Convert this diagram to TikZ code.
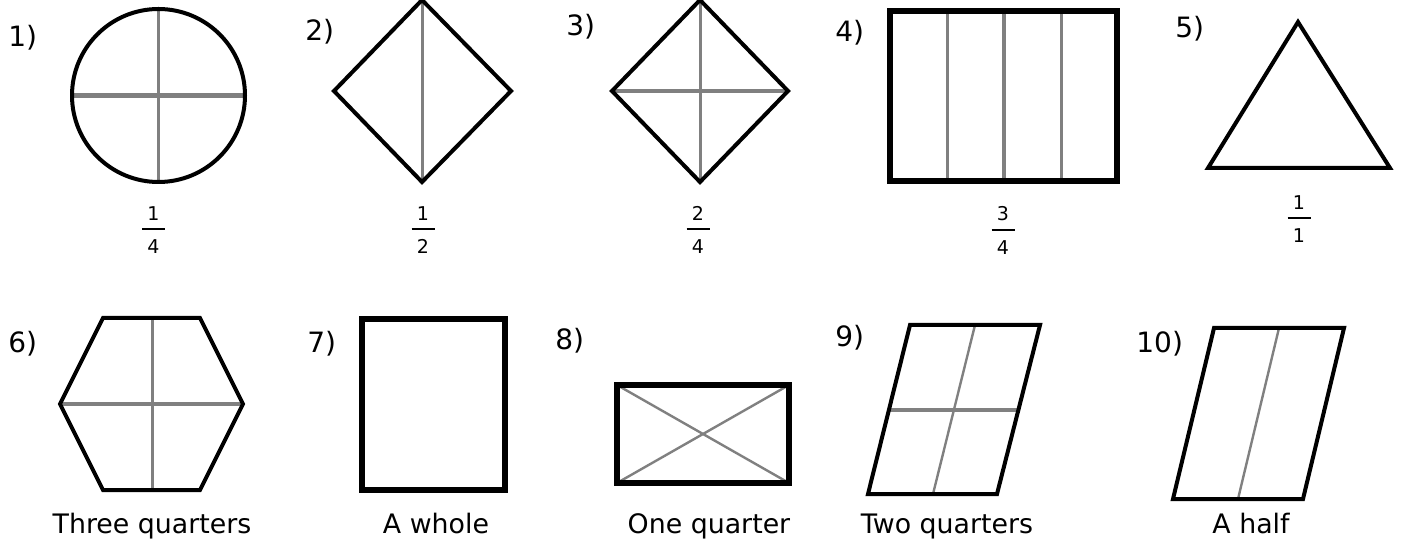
\documentclass[tikz,border=0pt]{standalone}
\usepackage{fontspec}
\setmainfont{DejaVu Sans}
\usetikzlibrary{positioning}
\definecolor{partgray}{RGB}{128,128,128}
\tikzset{
  outline/.style={line width=2pt, line join=miter},
  boldoutline/.style={line width=2.6pt, line join=miter},
  part/.style={partgray, line width=1.5pt},
  boldpart/.style={partgray, line width=2.3pt},
  thinpart/.style={partgray, line width=1.2pt},
  fracbar/.style={line width=1pt},
  qnum/.style={anchor=base west, inner sep=0pt, font=\fontsize{14}{16}\selectfont},
  fracdigit/.style={inner sep=0pt, font=\fontsize{9.5}{11}\selectfont},
  caption/.style={anchor=base, inner sep=0pt, font=\fontsize{13.4}{16}\selectfont}
}
\begin{document}
\begin{tikzpicture}[x=0.5pt,y=-0.5pt]
  \useasboundingbox (0,0) rectangle (1402,550);
  % 1) circle
  \draw[part] (158.5,9) -- (158.5,182);
  \draw[boldpart] (72,95.5) -- (245,95.5);
  \draw[outline] (158.5,95.5) circle[radius=86.5];
  % 2) diamond, one cut
  \draw[part] (422,0) -- (422,182);
  \draw[outline] (334,91) -- (422,0) -- (511,91) -- (422,182) -- cycle;
  % 3) diamond, two cuts
  \draw[part] (700,0) -- (700,182);
  \draw[boldpart] (612,91) -- (788,91);
  \draw[outline] (612,91) -- (700,0) -- (788,91) -- (700,182) -- cycle;
  % 4) rectangle in four strips
  \draw[part] (947,11) -- (947,181);
  \draw[boldpart] (1004,11) -- (1004,181);
  \draw[part] (1061,11) -- (1061,181);
  \draw[boldoutline] (890,11) rectangle (1117,181);
  % 5) triangle
  \draw[outline] (1298,22) -- (1390,168) -- (1208,168) -- cycle;
  % fractions under the top row
  \foreach \a/\b/\x/\y [count=\i] in {1/4/153.5/229,1/2/423/229,2/4/698/229,3/4/1003/230,1/1/1299/218}{
    \coordinate (bar\i) at (\x,\y);
    \draw[fracbar] ([xshift=-5.75pt]bar\i) -- ([xshift=5.75pt]bar\i);
    \node[fracdigit, above=4.2pt of bar\i] (top\i) {\a};
    \node[fracdigit, below=5pt of bar\i] (bot\i) {\b};
  }
  % 6) hexagon
  \draw[part] (152,318) -- (152,490);
  \draw[boldpart] (60,404) -- (243,404);
  \draw[outline] (103,318) -- (200,318) -- (243,404) -- (200,490) -- (103,490) -- (60,404) -- cycle;
  % 7) rectangle, whole
  \draw[boldoutline] (362,319) rectangle (505,490);
  % 8) rectangle with diagonals
  \draw[thinpart] (617,385) -- (789,483) (617,483) -- (789,385);
  \draw[boldoutline] (617,385) rectangle (789,483);
  % 9) parallelogram in quarters
  \draw[thinpart] (975,325) -- (933,494);
  \draw[boldpart] (889,410) -- (1018,410);
  \draw[outline] (910,325) -- (1040,325) -- (997,494) -- (868,494) -- cycle;
  % 10) parallelogram in halves
  \draw[thinpart] (1279,328) -- (1238,499);
  \draw[outline] (1214,328) -- (1344,328) -- (1303,499) -- (1173,499) -- cycle;
  % numbers
  \node[qnum] (lab1) at (8,47) {1)};
  \node[qnum] (lab2) at (305,41) {2)};
  \node[qnum] (lab3) at (566,36) {3)};
  \node[qnum] (lab4) at (835,42) {4)};
  \node[qnum] (lab5) at (1175,38) {5)};
  \node[qnum] (lab6) at (8,353) {6)};
  \node[qnum] (lab7) at (307,353) {7)};
  \node[qnum] (lab8) at (555,350) {8)};
  \node[qnum] (lab9) at (835,347) {9)};
  \node[qnum] (lab10) at (1136,353) {10)};
  % names under the bottom row
  \node[caption] (cap6) at (152,533) {Three quarters};
  \node[caption] (cap7) at (436,533) {A whole};
  \node[caption] (cap8) at (709,533) {One quarter};
  \node[caption] (cap9) at (947,533) {Two quarters};
  \node[caption] (cap10) at (1251,533) {A half};
\end{tikzpicture}
\end{document}
